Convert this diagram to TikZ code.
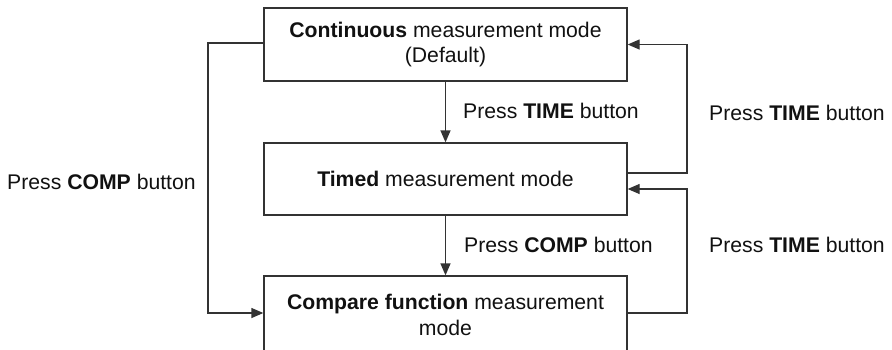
\documentclass[tikz,border=0pt]{standalone}
\usepackage{fontspec}
\setmainfont{Liberation Sans}
\usetikzlibrary{arrows.meta}
\definecolor{ln}{HTML}{333333}
\definecolor{tx}{HTML}{111111}
\begin{document}
\begin{tikzpicture}[x=1pt,y=-1pt,
  every node/.style={font=\fontsize{21.2}{25.5}\selectfont, text=tx},
  modebox/.style={draw=ln, line width=1.3pt, minimum width=363pt, inner sep=0pt, align=center},
  conn/.style={draw=ln, line width=1.3pt, -{Triangle[length=12pt,width=10pt]}},
  lbl/.style={anchor=base west, inner sep=0pt}]
\useasboundingbox (0,0) rectangle (892,349);
\node[modebox, minimum height=73pt] (b1) at (445.5,44.5) {\textbf{Continuous} measurement mode\\(Default)};
\node[modebox, minimum height=72pt] (b2) at (445.5,179) {\textbf{Timed} measurement mode};
\node[modebox, minimum height=78pt] (b3) at (445.5,315) {\textbf{Compare function} measurement\\mode};
\coordinate (lx) at (208,0);
\coordinate (rx) at (687,0);
\coordinate (b1out) at ([yshift=1.5pt]b1.west);
\coordinate (b2out) at ([yshift=6pt]b2.east);
\coordinate (b2in) at ([yshift=-10pt]b2.east);
\coordinate (b3in) at ([yshift=2pt]b3.west);
\coordinate (b3out) at ([yshift=2pt]b3.east);
\draw[conn] (b1) -- (b2);
\draw[conn] (b2) -- (b3);
\draw[conn] (b1out) -| (lx |- b3in) -- (b3in);
\draw[conn] (b2out) -| (rx |- b1.east) -- (b1.east);
\draw[conn] (b3out) -| (rx |- b2in) -- (b2in);
\node[lbl] (t1) at (463,118) {Press \textbf{TIME} button};
\node[lbl] (t2) at (464,252) {Press \textbf{COMP} button};
\node[lbl] (t3) at (709,120) {Press \textbf{TIME} button};
\node[lbl] (t4) at (709,252) {Press \textbf{TIME} button};
\node[lbl] (t5) at (7,189) {Press \textbf{COMP} button};
\end{tikzpicture}
\end{document}
